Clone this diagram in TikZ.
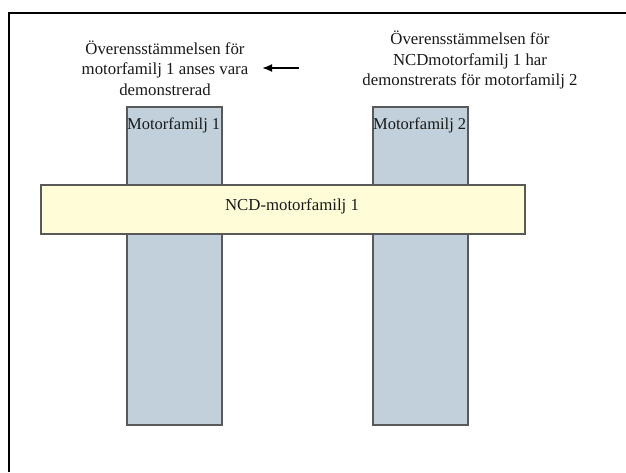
\documentclass[tikz,border=0pt]{standalone}
\usepackage{fontspec}
\setmainfont{Liberation Serif}
\usetikzlibrary{arrows.meta}
\begin{document}
\begin{tikzpicture}[x=1pt,y=-1pt,
  col/.style={draw=black!65, line width=1.8pt, fill={rgb,255:red,193;green,208;blue,218}, anchor=north west, inner sep=0pt},
  bar/.style={draw=black!65, line width=1.8pt, fill={rgb,255:red,255;green,253;blue,216}, anchor=north west, inner sep=0pt},
  lbl/.style={font=\fontsize{16.8}{20.5}\selectfont, align=center, inner sep=0pt, text=black!90},
  collbl/.style={font=\fontsize{16.5}{19}\selectfont, anchor=west, inner sep=0pt, text=black!90}]
\useasboundingbox (0,0) rectangle (626,472);
\fill[white] (0,0) rectangle (626,472);
\draw[line width=1.8pt] (9,472) -- (9,13) -- (626,13);
\node[col, minimum width=95pt, minimum height=318pt] (c1) at (126,106) {};
\node[col, minimum width=95pt, minimum height=318pt] (c2) at (372,106) {};
\node[collbl] (l1) at (127,125) {Motorfamilj 1};
\node[collbl] (l2) at (373,125) {Motorfamilj 2};
\node[bar, minimum width=484pt, minimum height=49pt] (b) at (40,184) {};
\node[lbl] (bl) at (292,206) {NCD-motorfamilj 1};
\node[lbl] (t1) at (165,68) {Överensstämmelsen för\\motorfamilj 1 anses vara\\demonstrerad};
\node[lbl] (t2) at (470,60) {Överensstämmelsen för\\NCDmotorfamilj 1 har\\demonstrerats för motorfamilj 2};
\coordinate (as) at (299,68);
\coordinate (ae) at (262,68);
\draw[line width=1.8pt, -{Latex[length=10pt,width=8pt]}] (as) -- (ae);
\end{tikzpicture}
\end{document}
